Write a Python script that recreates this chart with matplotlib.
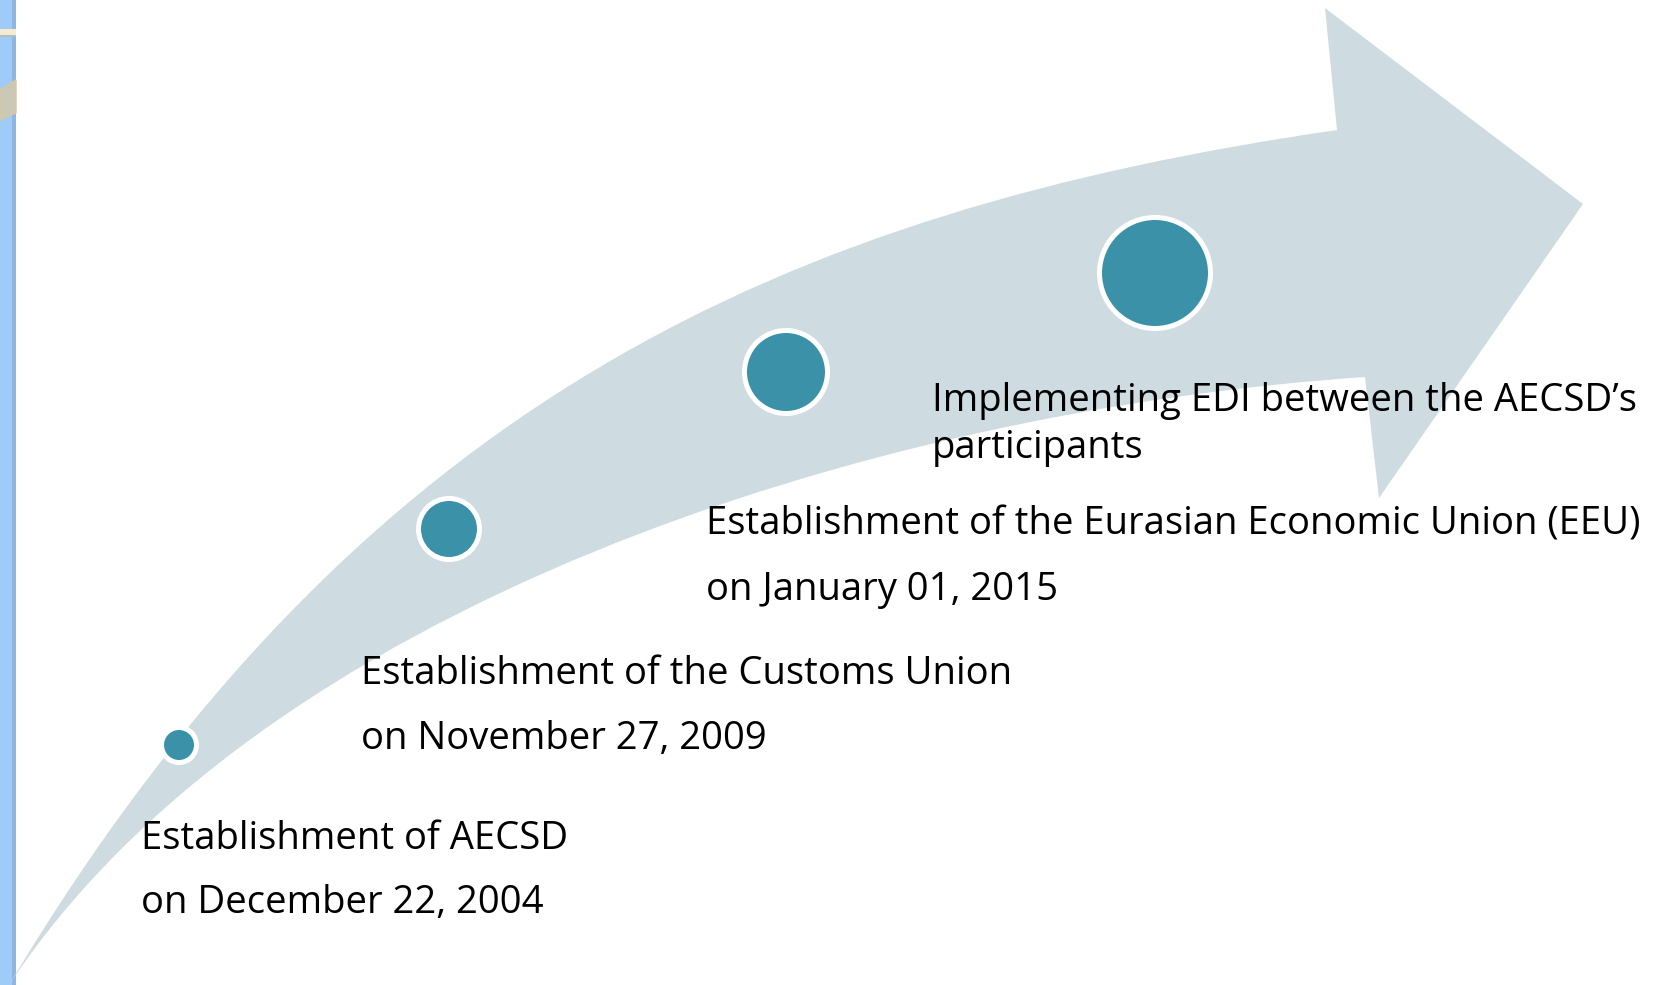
import matplotlib
matplotlib.use("Agg")
import matplotlib.pyplot as plt
from matplotlib.path import Path
from matplotlib.patches import PathPatch, Circle, Polygon, Rectangle

# Milestones, oldest first (each entry = lines of its label)
labels = [
    ["Establishment of AECSD", "on December 22, 2004"],
    ["Establishment of the Customs Union", "on November 27, 2009"],
    ["Establishment of the Eurasian Economic Union (EEU)", "on January 01, 2015"],
    ["Implementing EDI between the AECSD\u2019s", "participants"],
]

# Layout in pixel units of the 1661x985 canvas
marker_x = [179, 449, 786, 1155]
marker_y = [745, 529, 372, 273]
marker_r = [15, 28, 39, 53]
label_x = [141, 361, 706, 932]
label_y = [849, 684, 534, 411]
line_gap = [64, 65, 66, 47]

W, H = 1661, 985
ARROW_COLOR = "#cedce2"
DOT_COLOR = "#3a91a8"
FONT = ["Open Sans", "DejaVu Sans"]

fig = plt.figure(figsize=(W / 100, H / 100), dpi=100)
ax = fig.add_axes([0, 0, 1, 1])
ax.set_xlim(0, W)
ax.set_ylim(H, 0)
ax.axis("off")

# left slide border (background leftovers)
ax.add_patch(Rectangle((0, 0), 13, H, fc="#9ecbf8", ec="none", zorder=1))
ax.add_patch(Rectangle((12, 0), 4, H, fc="#90b6df", ec="none", zorder=1))
ax.add_patch(Rectangle((0, 29), 16, 6, fc="#f3ebd3", ec="none", zorder=2))
ax.add_patch(Rectangle((0, 35), 16, 2, fc="#b9bdb8", ec="none", zorder=2))
ax.add_patch(Polygon([(0, 90), (16, 80), (16, 113), (0, 120)], closed=True,
                     fc="#c9c9b5", ec="#d8c8a0", lw=1, zorder=2))

# curved arrow
verts = [
    (9, 985),
    (359, 400), (787, 210), (1337, 130),
    (1325, 8),
    (1583, 204),
    (1379, 498),
    (1365, 377),
    (865, 411), (259, 607), (9, 985),
    (9, 985),
]
codes = [Path.MOVETO,
         Path.CURVE4, Path.CURVE4, Path.CURVE4,
         Path.LINETO, Path.LINETO, Path.LINETO, Path.LINETO,
         Path.CURVE4, Path.CURVE4, Path.CURVE4,
         Path.CLOSEPOLY]
ax.add_patch(PathPatch(Path(verts, codes), fc=ARROW_COLOR, ec="none", zorder=3))

# milestone dots with white rings
ring_px = 5
for x, y, r in zip(marker_x, marker_y, marker_r):
    ax.add_patch(Circle((x, y), r + ring_px / 2, fc=DOT_COLOR, ec="white",
                        lw=ring_px * 0.72, zorder=4))

# labels
for lines, x, y, gap in zip(labels, label_x, label_y, line_gap):
    for i, line in enumerate(lines):
        ax.text(x, y + i * gap, line, ha="left", va="baseline",
                fontsize=27.5, family=FONT, color="black", zorder=5)

fig.savefig("out.png", dpi=100)
plt.close(fig)
